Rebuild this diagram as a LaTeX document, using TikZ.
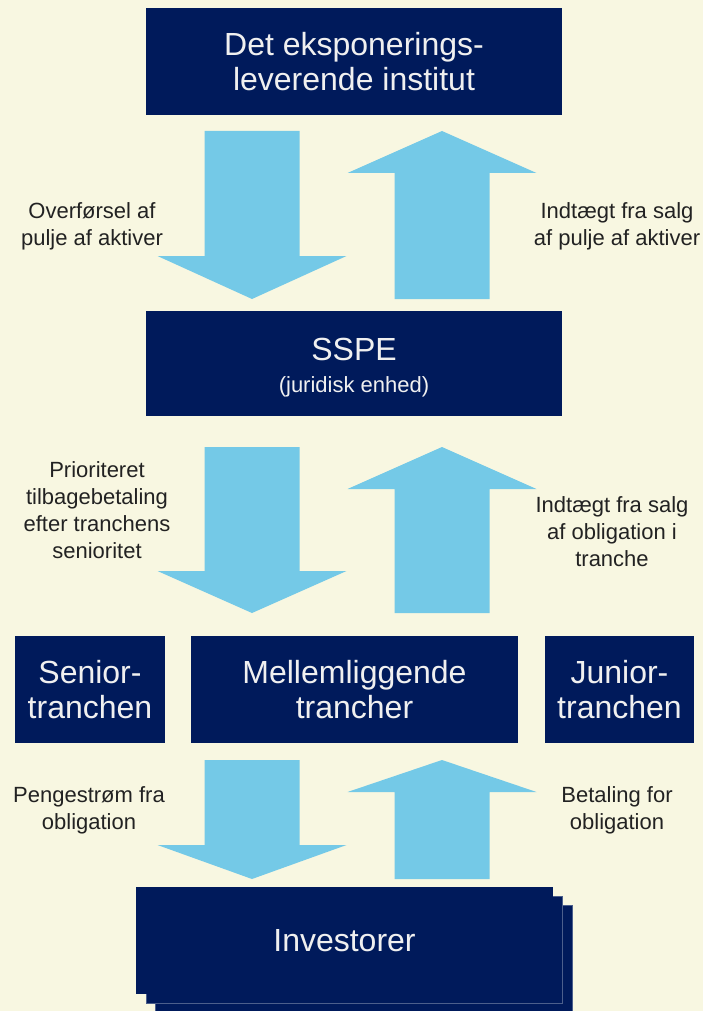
\documentclass[tikz,border=0pt]{standalone}
\usepackage{fontspec}
\setmainfont{Liberation Sans}
\usetikzlibrary{calc}
\definecolor{cream}{HTML}{F8F7E1}
\definecolor{navy}{HTML}{001A5B}
\definecolor{skyblue}{HTML}{74C9E7}
\definecolor{labelgray}{HTML}{222222}
\newcommand{\fatarrow}[3]{%
  \fill[flow arrow] let \p1=(#1), \p2=(#2), \n1={sign(\y2-\y1)} in
    (\x1-47.5pt,\y1) -- (\x1+47.5pt,\y1) -- (\x1+47.5pt,\y2-\n1*#3pt)
    -- (\x1+94.5pt,\y2-\n1*#3pt) -- (\x2,\y2) -- (\x1-94.5pt,\y2-\n1*#3pt)
    -- (\x1-47.5pt,\y2-\n1*#3pt) -- cycle;}
\begin{document}
\begin{tikzpicture}[x=1pt, y=-1pt,
    box node/.style={fill=navy, text=white!94!black, align=center, inner sep=0pt,
      font=\fontsize{32}{35}\selectfont, minimum height=107pt},
    back box/.style={fill=navy, draw=navy!70!white, line width=0.8pt},
    label node/.style={text=labelgray, align=center, inner sep=0pt,
      font=\fontsize{22}{27}\selectfont},
    flow arrow/.style={fill=skyblue}]
    \fill[cream] (0,0) rectangle (703,1011);
    \useasboundingbox (0,0) rectangle (703,1011);

      \node[box node, minimum width=416pt] (inst) at (354,61.5) {Det eksponerings-\\leverende institut};
      \node[box node, minimum width=416pt, minimum height=105pt] (sspe) at (354,363.5)
        {\rule{0pt}{31pt}SSPE\\[-3pt]{\fontsize{22}{24}\selectfont(juridisk enhed)}};
      \node[box node, minimum width=150pt] (senior) at (90,689.5) {Senior-\\tranchen};
      \node[box node, minimum width=327pt] (mellem) at (354.5,689.5) {Mellemliggende\\trancher};
      \node[box node, minimum width=149pt] (junior) at (619.5,689.5) {Junior-\\tranchen};

      \draw[back box] (155,905) rectangle (572,1025);
      \draw[back box] (146,896) rectangle (562,1003);
      \node[box node, minimum width=417pt] (inv) at (344.5,940.5) {Investorer};

      \coordinate (d1s) at (252,131);
      \coordinate (d1e) at (252,299);
      \coordinate (u1s) at (442,299);
      \coordinate (u1e) at (442,131);
      \coordinate (d2s) at (252,447);
      \coordinate (d2e) at (252,613);
      \coordinate (u2s) at (442,613);
      \coordinate (u2e) at (442,447);
      \coordinate (d3s) at (252,760);
      \coordinate (d3e) at (252,879);
      \coordinate (u3s) at (442,879);
      \coordinate (u3e) at (442,760);

      \fatarrow{d1s}{d1e}{43}
      \fatarrow{u1s}{u1e}{42}
      \fatarrow{d2s}{d2e}{42}
      \fatarrow{u2s}{u2e}{42}
      \fatarrow{d3s}{d3e}{34}
      \fatarrow{u3s}{u3e}{32}

      \node[label node] (l1) at (92,226) {Overførsel af\\pulje af aktiver};
      \node[label node] (r1) at (617,226) {Indtægt fra salg\\af pulje af aktiver};
      \node[label node] (l2) at (97,510) {Prioriteret\\tilbagebetaling\\efter tranchens\\senioritet};
      \node[label node] (r2) at (612,532) {Indtægt fra salg\\af obligation i\\tranche};
      \node[label node] (l3) at (89,810) {Pengestrøm fra\\obligation};
      \node[label node] (r3) at (617,810) {Betaling for\\obligation};

    \end{tikzpicture}
\end{document}
